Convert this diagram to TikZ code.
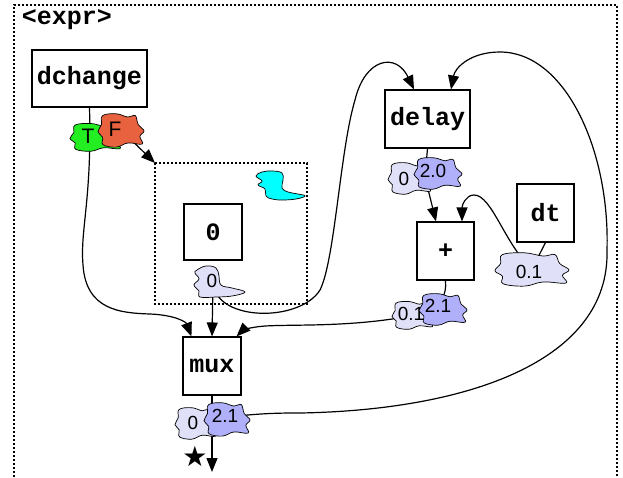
\documentclass[tikz,border=0pt]{standalone}
\usepackage{fontspec}
\setmainfont{Liberation Sans}
\setmonofont{Liberation Mono}
\newfontfamily\symfont{DejaVu Sans}
\usetikzlibrary{arrows.meta}
\definecolor{lav}{HTML}{E0E0F8}
\definecolor{blu}{HTML}{AFAFFA}
\definecolor{grn}{HTML}{22EE22}
\definecolor{tom}{HTML}{E8623F}
\definecolor{cyn}{HTML}{00FFFF}
\newcommand\cloudblob[5]{%
  \draw[line width=0.7pt, fill=#1, shift={(#2,#3)}, xscale=#4, yscale=#5]
    plot[smooth cycle, tension=0.65] coordinates {(-0.8,-0.8) (-0.2,-0.9) (0.3,-0.72) (0.62,-0.8) (0.75,-0.3) (1.0,0.05) (0.82,0.35) (0.92,0.78) (0.3,0.72) (-0.2,0.95) (-0.78,0.82) (-0.8,0.4) (-1.0,0.1) (-0.85,-0.3)};}
\begin{document}
\begin{tikzpicture}[x=1pt,y=-1pt,
  box/.style={draw, line width=1.1pt, fill=white, inner sep=0pt, font=\fontsize{25}{25}\selectfont\ttfamily\bfseries},
  lab/.style={font=\fontsize{19}{19}\selectfont, inner sep=0pt},
  tflab/.style={font=\fontsize{21}{21}\selectfont, inner sep=0pt},
  conn/.style={line width=1.2pt},
  arr/.style={conn, -{Triangle[length=14pt,width=11pt]}},
  frame/.style={line width=1.1pt, dash pattern=on 2.2pt off 1.8pt}]
\useasboundingbox (0,0) rectangle (623,477);
% frames
\draw[frame] (14,477) -- (14,5) -- (617,5) -- (617,477);
\node[font=\fontsize{25}{25}\selectfont\ttfamily\bfseries, inner sep=0pt] (exprlab) at (67,20) {<expr>};
\coordinate (innerNW) at (155,163);
\coordinate (innerSE) at (307,304);
\draw[frame] (innerNW) rectangle (innerSE);
% boxes
\node[box, minimum width=115, minimum height=57] (dchange) at (89.5,78.5) {dchange};
\node[box, minimum width=58, minimum height=56] (zero) at (213,232) {0};
\node[box, minimum width=58, minimum height=58] (mux) at (212,366) {mux};
\node[box, minimum width=85, minimum height=58] (delay) at (427.5,119) {delay};
\node[box, minimum width=57, minimum height=58] (plus) at (445.5,251) {+};
\node[box, minimum width=57, minimum height=58] (dt) at (545.5,213) {dt};
% blob centres
\coordinate (tb) at (96,137);
\coordinate (fb) at (121,130);
\coordinate (zb) at (213,284);
\coordinate (dlb) at (425,177);
\coordinate (pb) at (430,312);
\coordinate (dtb) at (532,269);
\coordinate (mxb) at (220,418);
\coordinate (out) at (212,472);
% connectors
\draw[arr] (dchange.south) .. controls (92,200) and (80,230) .. (83,265) .. controls (86,310) and (120,313) .. (150,314) .. controls (175,315) and (186,322) .. ([xshift=9pt]mux.north west);
\draw[arr] (fb) -- (innerNW);
\draw[arr] (zb) -- (mux.north);
\draw[arr] (zb) .. controls (218,322) and (300,322) .. (320,290) .. controls (335,260) and (340,150) .. (355,100) .. controls (365,58) and (396,52) .. ([xshift=-13.5pt]delay.north);
\draw[conn] (delay.south) -- (dlb);
\draw[arr] (dlb) -- ([xshift=-9.5pt]plus.north);
\draw[conn] (plus.south) .. controls (447,295) and (440,305) .. (pb);
\draw[arr] (pb) .. controls (360,328) and (300,324) .. (265,326) .. controls (250,327) and (242,331) .. ([xshift=-5pt]mux.north east);
\draw[conn] (dt.south) -- (dtb);
\draw[arr] (dtb) .. controls (505,245) and (492,195) .. (474,195) .. controls (466,195) and (462,205) .. ([xshift=16.5pt]plus.north);
\draw[arr] (mux.south) -- (out);
\draw[arr] (mxb) .. controls (260,413) and (280,413) .. (300,413) .. controls (470,410) and (610,360) .. (607,250) .. controls (610,150) and (565,52) .. (500,52) .. controls (470,52) and (455,68) .. ([xshift=23.5pt]delay.north);
% blobs
\cloudblob{grn}{96}{137}{26}{15}
\node[tflab] (tlab) at (88,136) {T};
\cloudblob{tom}{121}{130}{23}{18}
\node[tflab] (flab) at (115,129) {F};
\draw[line width=0.7pt, fill=cyn] plot[smooth cycle, tension=0.7] coordinates {(256,176) (262,172) (272,171) (282,173) (283,180) (282,188) (288,192) (298,194) (305,196) (296,199) (282,200) (272,199) (266,196) (265,189) (258,185) (262,181)};
\draw[line width=0.7pt, fill=lav] plot[smooth cycle, tension=0.7] coordinates {(197,270) (206,266) (216,268) (219,276) (221,285) (232,288) (245,292) (232,296) (216,297) (200,297) (199,291) (194,285) (199,279) (195,273)};
\node[lab] (zlab) at (212,281) {0};
\cloudblob{lav}{410}{178}{22}{17}
\node[lab] (dl0) at (404,179) {0};
\cloudblob{blu}{438}{173}{24}{17}
\node[lab] (dl20) at (433,171) {2.0};
\cloudblob{lav}{413}{315}{21}{15}
\node[lab] (p01) at (411,314) {0.1};
\cloudblob{blu}{443}{309}{24}{17}
\node[lab] (p21) at (438,306) {2.1};
\cloudblob{lav}{532}{269}{37}{18}
\node[lab] (dt01) at (529,272) {0.1};
\cloudblob{lav}{196}{423}{21}{17}
\node[lab] (m0) at (193,423) {0};
\cloudblob{blu}{227}{419}{23}{18}
\node[lab] (m21) at (225,416) {2.1};
\node[font=\symfont\fontsize{28}{28}\selectfont, inner sep=0pt] (star) at (195,456) {★};
\end{tikzpicture}
\end{document}
